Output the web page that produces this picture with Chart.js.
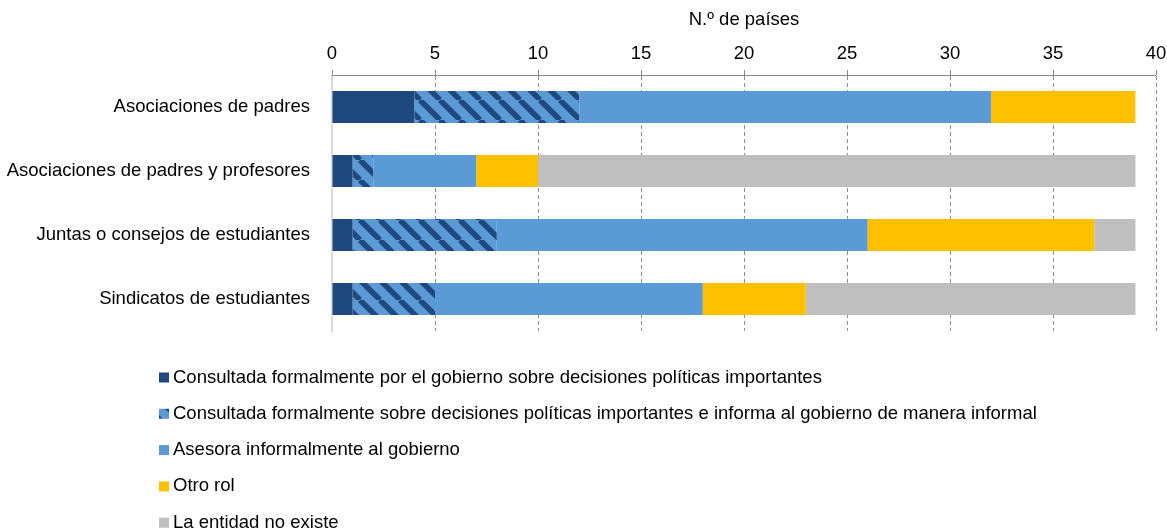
<!DOCTYPE html>
<html>
<head>
<meta charset="utf-8">
<script src="https://cdn.jsdelivr.net/npm/chart.js@4/dist/chart.umd.min.js"></script>
<style>
  html, body { margin: 0; padding: 0; background: #fff; }
  #wrap { width: 1167px; height: 529px; }
</style>
</head>
<body>
<div id="wrap"><canvas id="grafico"></canvas></div>
<script>
// categorías y valores (n.º de países)
const categorias = [
  "Asociaciones de padres",
  "Asociaciones de padres y profesores",
  "Juntas o consejos de estudiantes",
  "Sindicatos de estudiantes"
];
const consultadaGobierno = [4, 1, 1, 1];
const consultadaInforma = [8, 1, 7, 4];
const asesoraInformal = [20, 5, 18, 13];
const otroRol = [7, 3, 11, 5];
const noExiste = [0, 29, 2, 16];

const nombresSeries = [
  "Consultada formalmente por el gobierno sobre decisiones políticas importantes",
  "Consultada formalmente sobre decisiones políticas importantes e informa al gobierno de manera informal",
  "Asesora informalmente al gobierno",
  "Otro rol",
  "La entidad no existe"
];
const ticksX = [0, 5, 10, 15, 20, 25, 30, 35, 40];

const FUENTE = "'Liberation Sans', Arial, sans-serif";
const TAM = 18.5;
const azulOscuro = "#1f497d";
const azulClaro = "#5b9bd5";

// trama de rayas diagonales
function crearTrama() {
  const c = document.createElement("canvas");
  c.width = 20; c.height = 20;
  const g = c.getContext("2d");
  g.fillStyle = azulClaro;
  g.fillRect(0, 0, 20, 20);
  g.strokeStyle = azulOscuro;
  g.lineWidth = 5.5;
  [-20, 0, 20].forEach(d => {
    g.beginPath();
    g.moveTo(d, 0);
    g.lineTo(d + 20, 20);
    g.stroke();
  });
  return g.createPattern(c, "repeat");
}
const trama = crearTrama();

const colores = [azulOscuro, trama, azulClaro, "#ffc000", "#bfbfbf"];
const valores = [consultadaGobierno, consultadaInforma, asesoraInformal, otroRol, noExiste];

// leyenda vertical debajo del gráfico
const leyendaVertical = {
  id: "leyendaVertical",
  afterDraw(chart) {
    const ctx = chart.ctx;
    ctx.save();
    ctx.font = TAM + "px " + FUENTE;
    ctx.textBaseline = "middle";
    ctx.textAlign = "left";
    chart.data.datasets.forEach((ds, i) => {
      const y = 377.5 + i * 36.3;
      ctx.fillStyle = ds.backgroundColor;
      ctx.fillRect(159, y - 5, 10, 10);
      ctx.fillStyle = "#000";
      ctx.fillText(ds.label, 173, y);
    });
    ctx.restore();
  }
};

// línea superior del eje, continua
const lineaEje = {
  id: "lineaEje",
  afterDatasetsDraw(chart) {
    const a = chart.chartArea;
    const ctx = chart.ctx;
    ctx.save();
    ctx.strokeStyle = "#868686";
    ctx.lineWidth = 1;
    ctx.setLineDash([]);
    ctx.beginPath();
    ctx.moveTo(a.left, a.top + 0.5);
    ctx.lineTo(a.right, a.top + 0.5);
    ctx.stroke();
    ctx.restore();
  }
};

new Chart(document.getElementById("grafico"), {
  type: "bar",
  data: {
    labels: categorias,
    datasets: nombresSeries.map((nombre, i) => ({
      label: nombre,
      data: valores[i],
      backgroundColor: colores[i],
      borderWidth: 0,
      categoryPercentage: 1,
      barPercentage: 0.5
    }))
  },
  options: {
    indexAxis: "y",
    responsive: true,
    maintainAspectRatio: false,
    animation: false,
    layout: { padding: { left: 0, right: 0, top: 0, bottom: 198 } },
    plugins: {
      legend: { display: false },
      tooltip: { enabled: false }
    },
    scales: {
      x: {
        position: "top",
        stacked: true,
        min: 0,
        max: 40,
        afterBuildTicks(scale) {
          scale.ticks = ticksX.map(v => ({ value: v }));
        },
        afterFit(scale) {
          scale.height = 75;
          scale.paddingRight = 11;
          scale.paddingLeft = 0;
        },
        ticks: {
          color: "#000",
          font: { family: FUENTE, size: TAM },
          padding: 5,
          maxRotation: 0
        },
        grid: {
          color: ctx => (ctx.tick && ctx.tick.value === 0) ? "rgba(0,0,0,0)" : "#8c8c8c",
          lineWidth: 1,
          borderDash: [4, 3],
          tickLength: 5,
          tickColor: "#868686",
          tickBorderDash: []
        },
        border: { display: true, color: "rgba(0,0,0,0)", dash: [4, 3] },
        title: {
          display: true,
          text: "N.º de países",
          color: "#000",
          font: { family: FUENTE, size: TAM },
          padding: { top: 9, bottom: 2 }
        }
      },
      y: {
        stacked: true,
        afterFit(scale) { scale.width = 332; },
        ticks: {
          color: "#000",
          font: { family: FUENTE, size: TAM },
          padding: 14
        },
        grid: { display: false },
        border: { display: true, color: "#d9d9d9", width: 2 }
      }
    }
  },
  plugins: [leyendaVertical, lineaEje]
});
</script>
</body>
</html>
